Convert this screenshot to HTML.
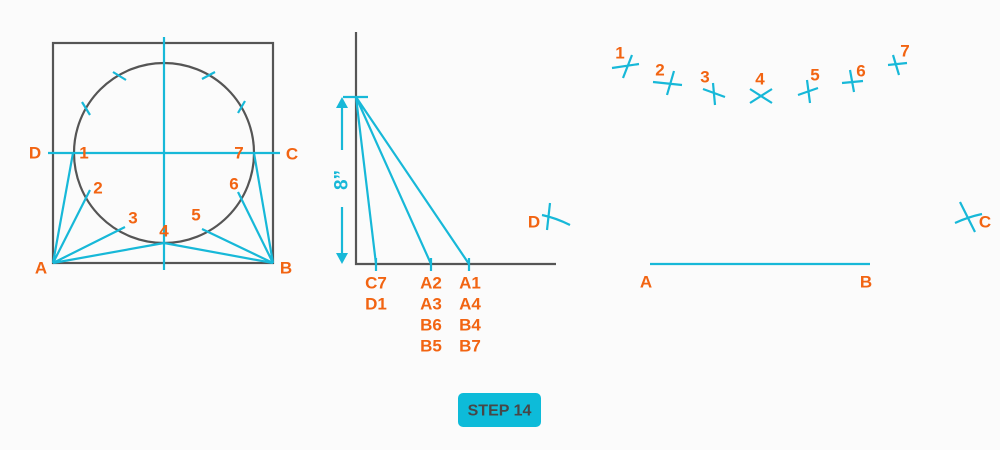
<!DOCTYPE html>
<html><head><meta charset="utf-8"><style>
html,body{margin:0;padding:0;background:#fbfbfb;}
svg{display:block}
text{font-family:"Liberation Sans",sans-serif;font-weight:bold;fill:#f26412;font-size:17px;text-anchor:middle;dominant-baseline:central}
</style></head><body>
<svg width="1000" height="450" viewBox="0 0 1000 450">
<g fill="none" stroke="#555" stroke-width="2.2">
<rect x="53" y="43" width="220" height="220"/>
<circle cx="164" cy="153" r="90"/>
<polyline points="356,32 356,264 556,264"/>
</g>
<g fill="none" stroke="#17b8d8" stroke-width="2.2">
<line x1="164" y1="37" x2="164" y2="270"/>
<line x1="48" y1="153" x2="280" y2="153"/>
<line x1="113" y1="72" x2="126" y2="80"/><line x1="202" y1="79" x2="215" y2="72"/>
<line x1="82" y1="102" x2="90" y2="115"/><line x1="238" y1="113" x2="245" y2="101"/>
<path d="M53,263 L73,153 M53,263 L90,190 M53,263 L125,227 M53,263 L164,243 M273,263 L254,153 M273,263 L238,192 M273,263 L202,229 M273,263 L164,243"/>
<line x1="343" y1="97" x2="368" y2="97"/>
<path d="M356,97 L376,264 M356,97 L431,264 M356,97 L469,264"/>
<path d="M376,258 V271 M431,258 V271 M469,258 V271"/>
<path d="M342,104 V150 M342,207 V257"/>
<path d="M550,203 L547,230 M542,215 Q556,218 570,225"/>
<line x1="650" y1="264" x2="870" y2="264"/>
<path d="M612,68 L639,64 M632,55 L623,78"/>
<path d="M653,82 L682,85 M674,71 L667,95"/>
<path d="M703,89 L725,97 M713,83 L715,105"/>
<path d="M750,89 L772,103 M772,89 L750,103"/>
<path d="M798,95 L818,88 M807,80 L810,103"/>
<path d="M842,83 L863,81 M850,70 L854,92"/>
<path d="M888,65 L907,63 M893,55 L899,75"/>
<path d="M960,202 L975,232 M955,223 Q968,217 982,214"/>
</g>
<g fill="#17b8d8">
<polygon points="342,97 336,108 348,108"/>
<polygon points="342,264 336,253 348,253"/>
</g>
<text x="342" y="180" transform="rotate(-90 342 180)" style="fill:#17b8d8;font-size:19px">8”</text>
<text x="35" y="153">D</text><text x="84" y="153">1</text><text x="239" y="153">7</text><text x="292" y="154">C</text>
<text x="98" y="188">2</text><text x="133" y="218">3</text><text x="164" y="231">4</text><text x="196" y="215">5</text><text x="234" y="184">6</text>
<text x="41" y="268">A</text><text x="286" y="268">B</text>
<text x="376" y="283">C7</text><text x="376" y="304">D1</text>
<text x="431" y="283">A2</text><text x="431" y="304">A3</text><text x="431" y="325">B6</text><text x="431" y="346">B5</text>
<text x="470" y="283">A1</text><text x="470" y="304">A4</text><text x="470" y="325">B4</text><text x="470" y="346">B7</text>
<text x="534" y="222">D</text><text x="985" y="222">C</text>
<text x="646" y="282">A</text><text x="866" y="282">B</text>
<text x="620" y="53">1</text><text x="660" y="70">2</text><text x="705" y="77">3</text><text x="760" y="79">4</text><text x="815" y="75">5</text><text x="861" y="71">6</text><text x="905" y="51">7</text>
<rect x="458" y="393" width="83" height="34" rx="5" fill="#0dbbd9"/>
<text x="499.5" y="411" style="fill:#474747;font-size:16px">STEP 14</text>
</svg>
</body></html>
